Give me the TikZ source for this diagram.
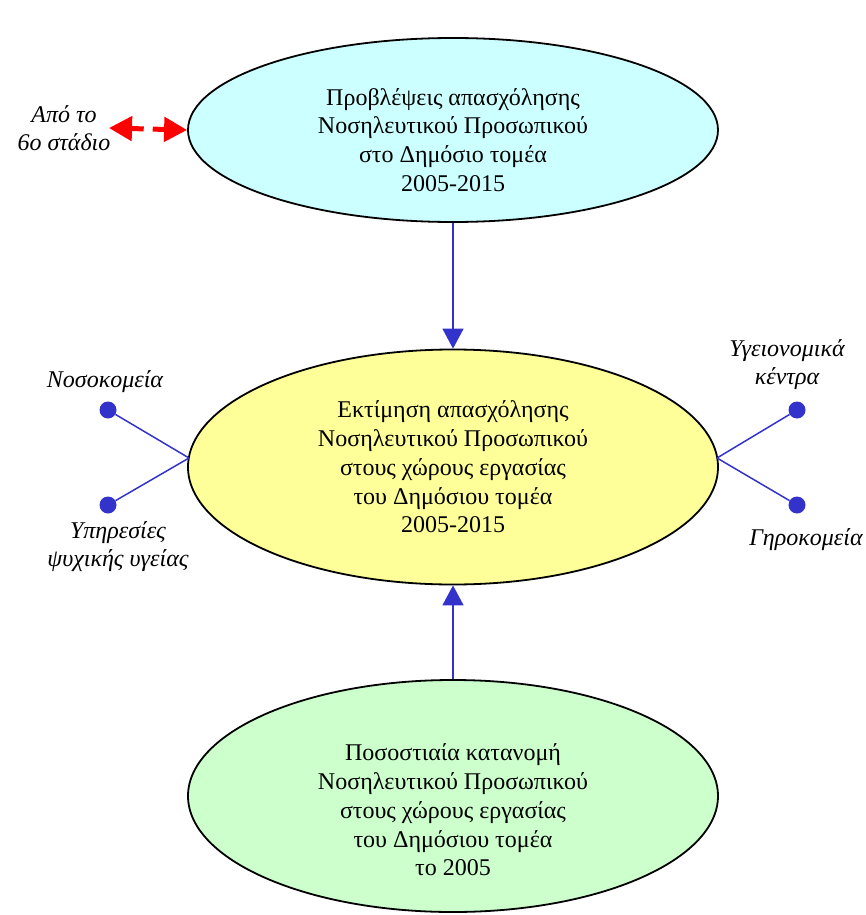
\documentclass[tikz,border=0pt]{standalone}
\usepackage{fontspec}
\setmainfont{Liberation Serif}
\usetikzlibrary{shapes.geometric,arrows.meta}
\definecolor{cyanfill}{HTML}{CCFFFF}
\definecolor{yellowfill}{HTML}{FFFF99}
\definecolor{greenfill}{HTML}{CCFFCC}
\definecolor{linkblue}{HTML}{3333CC}
\tikzset{
  bigell/.style={ellipse, draw=black, line width=1.8pt, minimum width=530pt, inner sep=0pt},
  boxtext/.style={align=center, font=\fontsize{24}{28.8}\selectfont},
  sidetext/.style={align=center, font=\fontsize{24}{28}\selectfont\itshape},
  flow/.style={draw=linkblue, line width=1.5pt, -{Triangle[length=20pt,width=21pt]}},
  spoke/.style={draw=linkblue, line width=1.5pt},
  dot/.style={circle, fill=linkblue, minimum size=17pt, inner sep=0pt},
}
\begin{document}
\begin{tikzpicture}[x=1pt,y=-1pt]
\useasboundingbox (0,0) rectangle (865,915);
% ellipses
\node[bigell, fill=cyanfill, minimum height=184pt] (top) at (453,130) {};
\node[bigell, fill=yellowfill, minimum height=235pt] (mid) at (453,467) {};
\node[bigell, fill=greenfill, minimum height=232pt] (bot) at (453,796) {};
% texts
\node[boxtext] (toptext) at (453,140) {Προβλέψεις απασχόλησης\\Νοσηλευτικού Προσωπικού\\στο Δημόσιο τομέα\\2005-2015};
\node[boxtext] (midtext) at (453,467) {Εκτίμηση απασχόλησης\\Νοσηλευτικού Προσωπικού\\στους χώρους εργασίας\\του Δημόσιου τομέα\\2005-2015};
\node[boxtext] (bottext) at (453,810) {Ποσοστιαία κατανομή\\Νοσηλευτικού Προσωπικού\\στους χώρους εργασίας\\του Δημόσιου τομέα\\το 2005};
% flow arrows
\draw[flow] (top.south) -- (mid.north);
\draw[flow] (bot.north) -- (mid.south);
% red dashed double arrow
\coordinate (redL) at (109,128);
\draw[red, line width=5pt, dash pattern=on 13pt off 9pt, {Triangle[length=23pt,width=24pt]}-{Triangle[length=23pt,width=24pt]}] (redL) -- (top.west);
\node[sidetext] (from) at (64,128) {Από το\\6ο στάδιο};
% spokes
\coordinate (mw) at (189,458);
\coordinate (me) at (717,458);
\node[dot] (d1) at (108,410) {};
\node[dot] (d2) at (108,505) {};
\node[dot] (d3) at (797,410) {};
\node[dot] (d4) at (797,505) {};
\draw[spoke] (d1) -- (mw);
\draw[spoke] (d2) -- (mw);
\draw[spoke] (d3) -- (me);
\draw[spoke] (d4) -- (me);
\node[sidetext] (l1) at (105,382) {Νοσοκομεία};
\node[sidetext] (l2) at (118,547) {Υπηρεσίες\\ψυχικής υγείας};
\node[sidetext] (l3) at (787,365) {Υγειονομικά\\κέντρα};
\node[sidetext] (l4) at (806,540) {Γηροκομεία};
\end{tikzpicture}
\end{document}
